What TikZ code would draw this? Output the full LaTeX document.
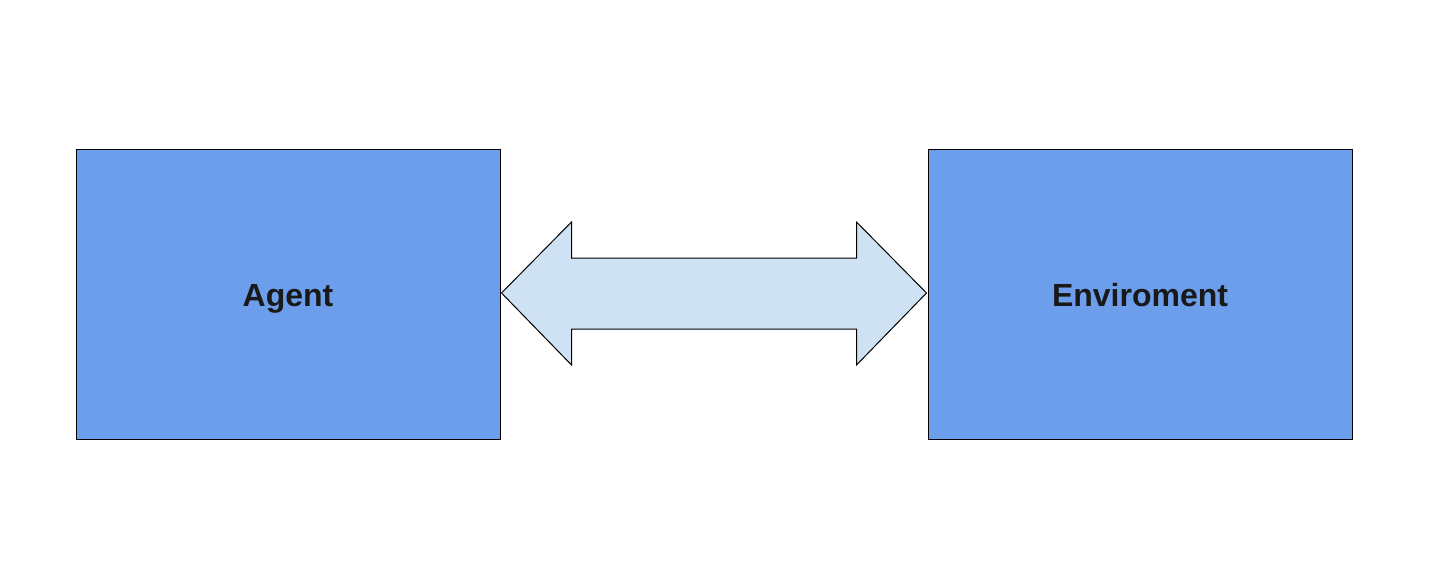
\documentclass[tikz,border=0pt]{standalone}
\usepackage{fontspec}
\setmainfont{Liberation Sans}
\usetikzlibrary{calc}
\definecolor{boxblue}{HTML}{6D9EEB}
\definecolor{arrowblue}{HTML}{CFE2F3}
\begin{document}
\begin{tikzpicture}[x=1pt,y=-1pt,
  block/.style={draw=black,line width=1pt,fill=boxblue,minimum width=424pt,minimum height=290pt,inner sep=0pt,text height=24pt,text depth=0pt,font=\fontsize{32}{38}\selectfont\bfseries,text=black!90},
  dblarrow/.style={draw=black,line width=1pt,fill=arrowblue,line join=miter}]
\useasboundingbox (0,0) rectangle (1434,578);
\node[block] (agent) at (288,294) {Agent};
\node[block] (env) at (1140,294) {Enviroment};
\coordinate (lt) at ($(agent.east)+(1,-1)$);
\coordinate (rt) at ($(env.west)+(-1,-1)$);
\draw[dblarrow] (lt) -- ($(lt)+(70,-71)$) -- ($(lt)+(70,-35)$) -- ($(rt)+(-70,-35)$) -- ($(rt)+(-70,-71)$) -- (rt)
  -- ($(rt)+(-70,72)$) -- ($(rt)+(-70,36)$) -- ($(lt)+(70,36)$) -- ($(lt)+(70,72)$) -- cycle;
\end{tikzpicture}
\end{document}
